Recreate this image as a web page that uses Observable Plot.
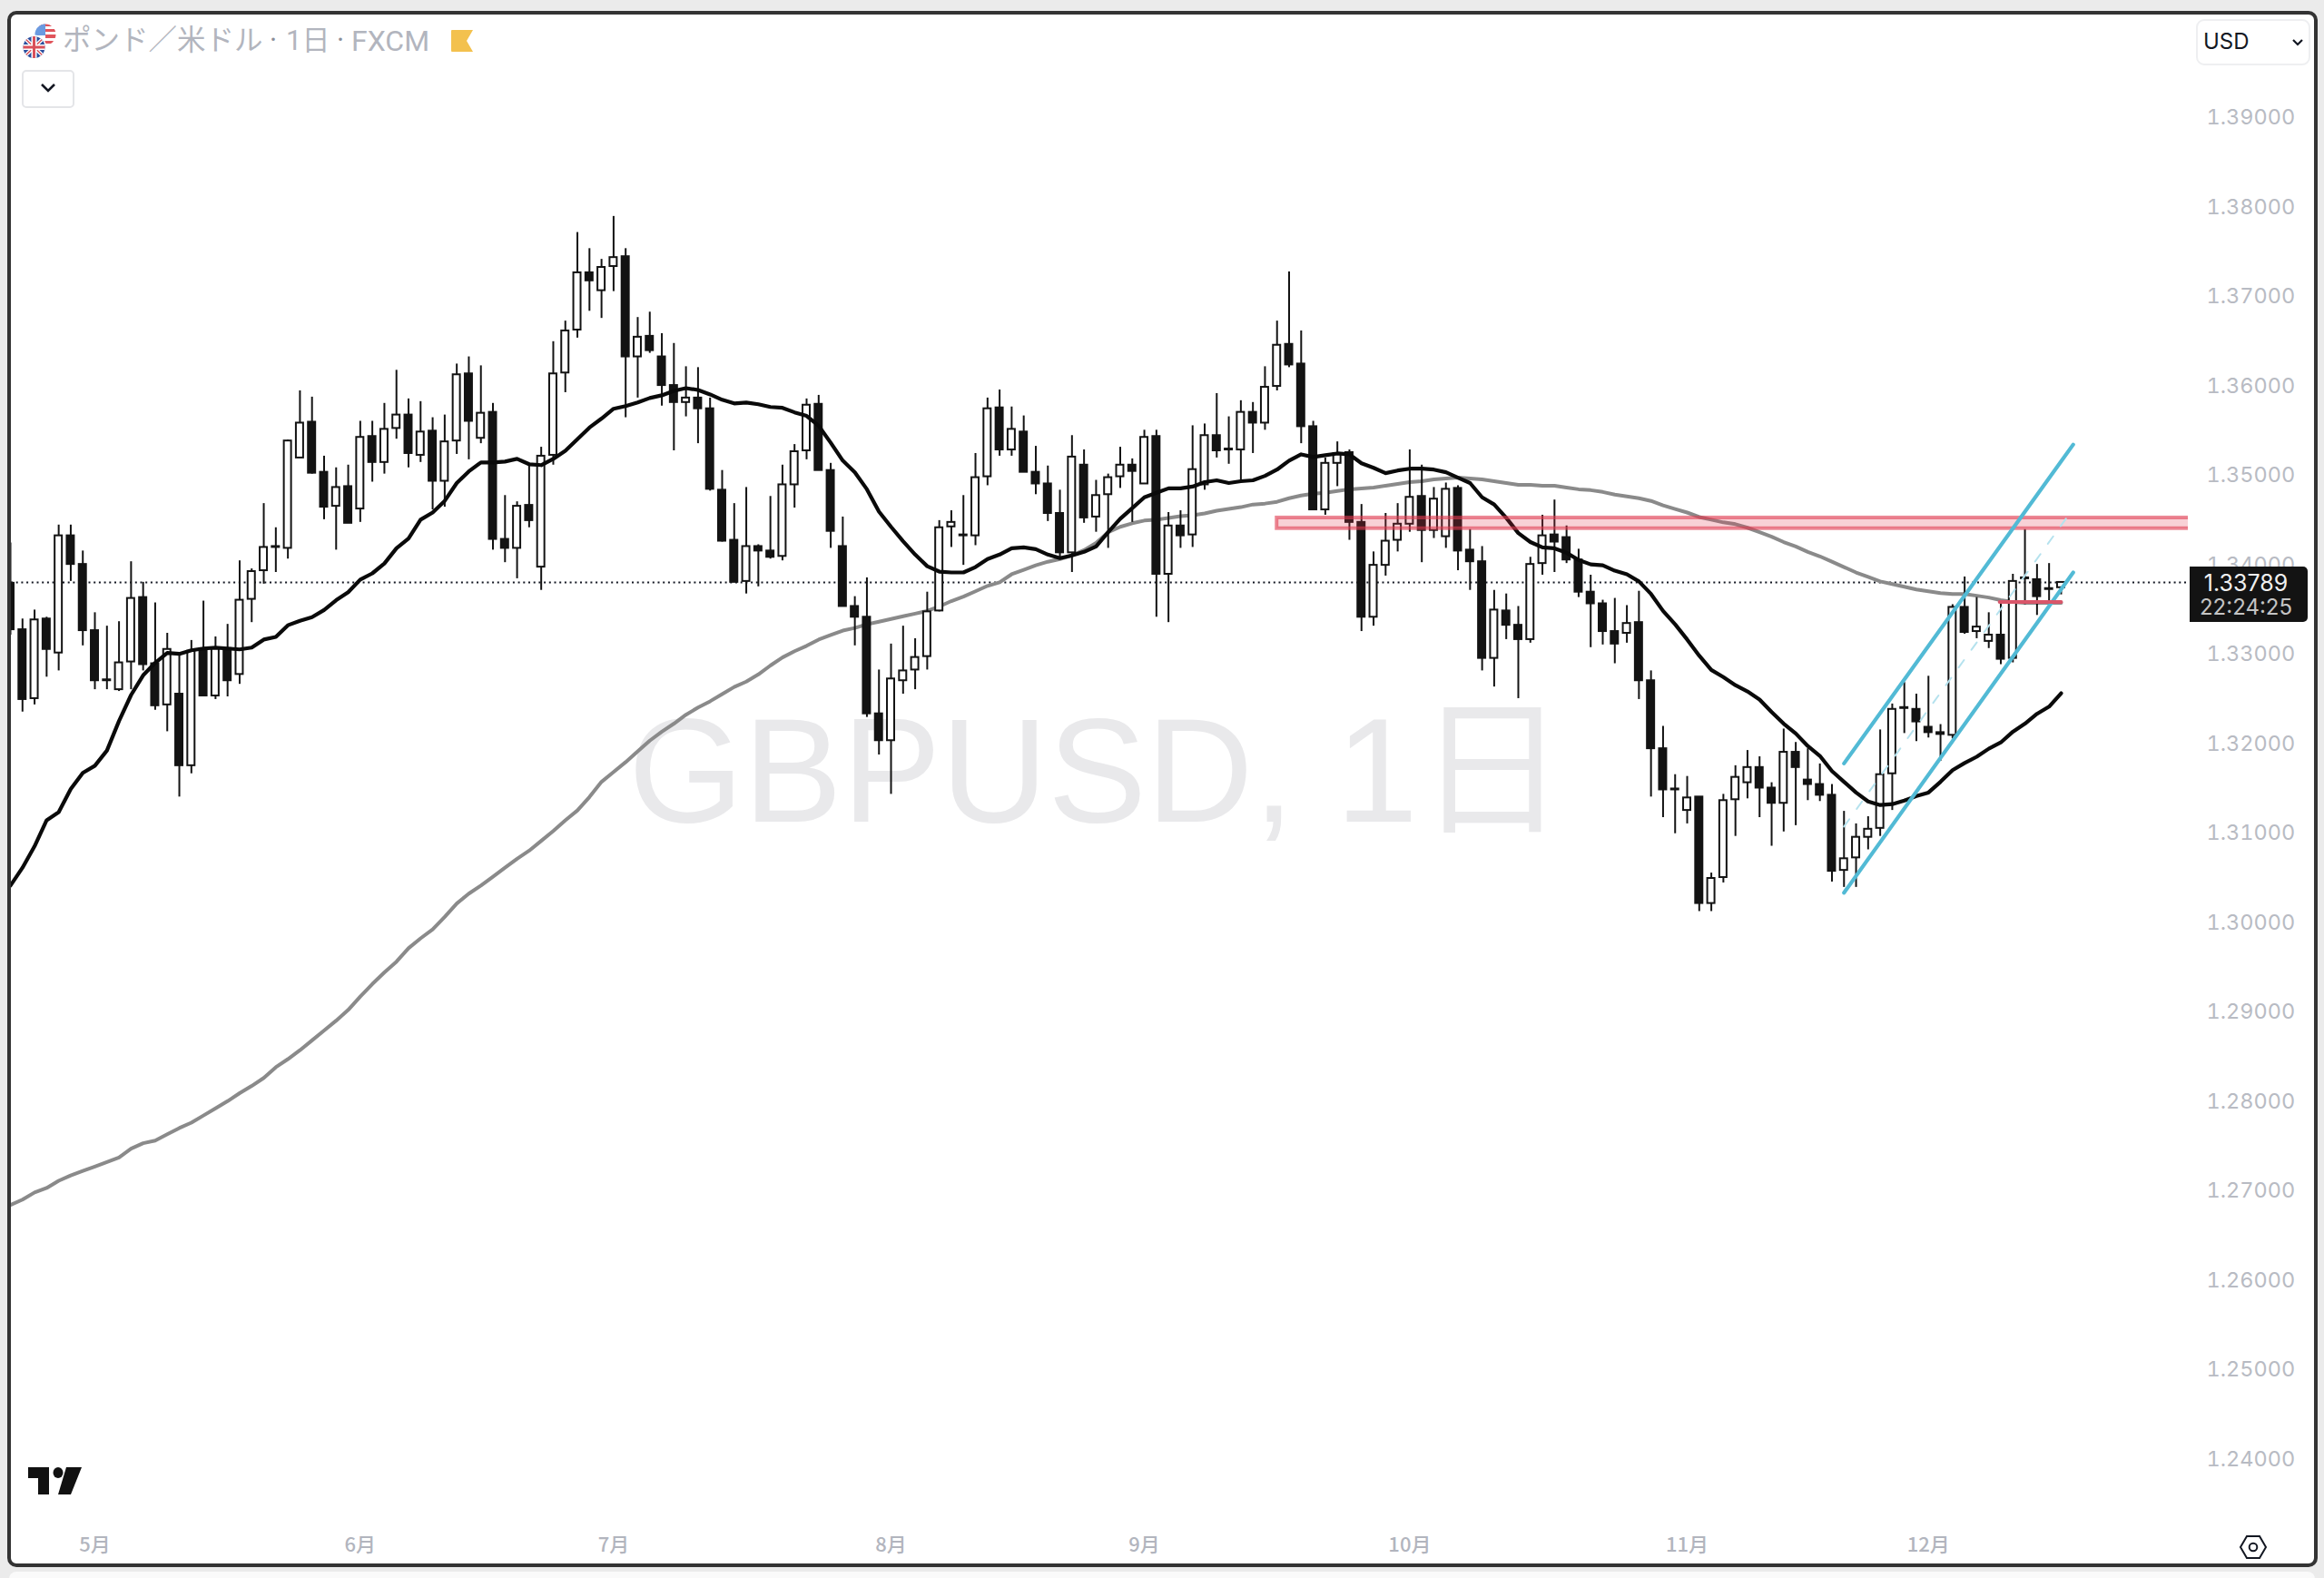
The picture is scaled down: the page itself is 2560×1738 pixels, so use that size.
<!DOCTYPE html>
<html lang="ja">
<head>
<meta charset="utf-8">
<title>GBPUSD</title>
<script src="https://cdn.jsdelivr.net/npm/d3@7"></script>
<script src="https://cdn.jsdelivr.net/npm/@observablehq/plot@0.6"></script>
<style>
html,body{margin:0;padding:0;background:#ebebeb;width:2560px;height:1738px;overflow:hidden}
#strip{position:absolute;left:10px;top:1731px;width:2540px;height:20px;background:#fafafa;border-radius:8px}
#frame{position:absolute;left:8px;top:12px;width:2537px;height:1706px;background:#fff;border:4px solid #333;border-radius:10px}
#chart{position:absolute;left:0;top:0}
.t{position:absolute;font-family:Roboto,"Noto Sans CJK JP",sans-serif;color:#b2b5be;white-space:nowrap;line-height:1}
#btn{position:absolute;left:24px;top:77px;width:54px;height:38px;border:2px solid #e4e5e8;border-radius:5px;background:#fff}
#usd{position:absolute;left:2419px;top:21px;width:122px;height:47px;border:2px solid #eeeff1;border-radius:9px;background:#fff}
#usd span{position:absolute;left:6px;top:9px;font:24px/28px Inter,Roboto,sans-serif;color:#131722}
#tag{position:absolute;left:2412px;top:624px;width:130px;height:61px;background:#131313;border-radius:0 5px 5px 0;text-align:center;font-family:Inter,Roboto,sans-serif}
#tag div{position:absolute;left:0;width:124px;text-align:center}
#tag .a{top:3px;color:#f0f0f0;font-size:25px;line-height:30px}
#tag .b{top:31px;color:#c4c4c4;font-size:24px;line-height:28px}
svg.o{position:absolute;overflow:visible}
</style>
</head>
<body>
<div id="strip"></div>
<div id="frame"></div>
<div id="chart"></div>

<svg class="o" style="left:22px;top:24px" width="44" height="44" viewBox="22 24 44 44">
  <defs>
    <clipPath id="us"><circle cx="50" cy="38" r="11.5"/></clipPath>
    <clipPath id="uk"><circle cx="37.5" cy="52" r="12"/></clipPath>
  </defs>
  <g clip-path="url(#us)">
    <rect x="38" y="26" width="24" height="24" fill="#fff"/>
    <rect x="38" y="26" width="24" height="3" fill="#e0545b"/>
    <rect x="50" y="32" width="12" height="3" fill="#e0545b"/>
    <rect x="50" y="38" width="12" height="4" fill="#e0545b"/>
    <rect x="38" y="45" width="24" height="3" fill="#e0545b"/>
    <rect x="38" y="26" width="12" height="13" fill="#6b9ae0"/>
  </g>
  <circle cx="37.5" cy="52" r="13.5" fill="#fff"/>
  <g clip-path="url(#uk)">
    <rect x="25" y="40" width="25" height="24" fill="#2b4f9e"/>
    <path d="M25 40L50 64M50 40L25 64" stroke="#fff" stroke-width="4"/>
    <path d="M25 40L50 64M50 40L25 64" stroke="#d9505a" stroke-width="1.4"/>
    <path d="M37.500 40V64M25 52H50" stroke="#fff" stroke-width="6"/>
    <path d="M37.500 40V64M25 52H50" stroke="#d9505a" stroke-width="3"/>
  </g>
</svg>
<span class="t" style="left:69px;top:29px;font-size:31.5px">ポンド／米ドル</span>
<span class="t" style="left:297px;top:29px;font-size:31px;color:#8a8e99">·</span>
<span class="t" style="left:315px;top:29px;font-size:31px">1日</span>
<span class="t" style="left:371px;top:29px;font-size:31px;color:#8a8e99">·</span>
<span class="t" style="left:387px;top:29px;font-size:32px">FXCM</span>
<svg class="o" style="left:497px;top:33px" width="24" height="24" viewBox="0 0 24 24"><path d="M1 0H24L17 12L24 24H1Q0 24 0 23V1Q0 0 1 0Z" fill="#f3c14e"/></svg>

<div id="btn"><svg class="o" style="left:18px;top:12px" width="18" height="12" viewBox="0 0 18 12"><path d="M2 2L9 9L16 2" fill="none" stroke="#131722" stroke-width="2.6"/></svg></div>
<div id="usd"><span>USD</span><svg class="o" style="left:103px;top:19px" width="14" height="10" viewBox="0 0 14 10"><path d="M2 2L7 7L12 2" fill="none" stroke="#131722" stroke-width="2.2"/></svg></div>
<div id="tag"><div class="a">1.33789</div><div class="b">22:24:25</div></div>

<svg class="o" style="left:31px;top:1616px" width="60" height="30" viewBox="0 0 60 30">
  <path d="M0 0H23V30H11V12H0Z" fill="#111"/>
  <ellipse cx="33" cy="6" rx="5.500" ry="6" fill="#111"/>
  <path d="M42 0H59L47 30H33Z" fill="#111"/>
</svg>
<svg class="o" style="left:2466px;top:1689px" width="32" height="30" viewBox="0 0 32 30">
  <path d="M9 3H23L30 15L23 27H9L2 15Z" fill="none" stroke="#131722" stroke-width="2"/>
  <circle cx="16" cy="15" r="4.300" fill="none" stroke="#131722" stroke-width="2"/>
</svg>

<script>
const open = [
1.3378,1.3326,1.3249,1.3338,1.3300,1.3431,1.3399,1.3325,1.3270,1.3259,
1.3290,1.3362,1.3288,1.3242,1.3254,1.3174,1.3303,1.3252,1.3303,1.3276,
1.3360,1.3392,1.3418,1.3417,1.3518,1.3558,1.3502,1.3464,1.3486,1.3461,
1.3542,1.3513,1.3551,1.3566,1.3521,1.3548,1.3492,1.3537,1.3612,1.3540,
1.3569,1.3427,1.3417,1.3465,1.3396,1.3521,1.3613,1.3661,1.3725,1.3705,
1.3732,1.3743,1.3631,1.3654,1.3631,1.3599,1.3580,1.3585,1.3573,1.3482,
1.3426,1.3380,1.3419,1.3414,1.3408,1.3488,1.3526,1.3578,1.3504,1.3419,
1.3352,1.3340,1.3232,1.3202,1.3269,1.3281,1.3296,1.3347,1.3441,1.3432,
1.3431,1.3497,1.3574,1.3527,1.3547,1.3502,1.3489,1.3456,1.3412,1.3510,
1.3452,1.3477,1.3497,1.3510,1.3489,1.3542,1.3388,1.3442,1.3432,1.3488,
1.3543,1.3527,1.3527,1.3569,1.3557,1.3598,1.3645,1.3623,1.3553,1.3460,
1.3512,1.3524,1.3446,1.3340,1.3398,1.3426,1.3444,1.3475,1.3437,1.3430,
1.3484,1.3415,1.3402,1.3294,1.3347,1.3331,1.3315,1.3400,1.3432,1.3429,
1.3404,1.3368,1.3355,1.3324,1.3322,1.3334,1.3269,1.3193,1.3148,1.3124,
1.3139,1.3020,1.3049,1.3136,1.3155,1.3172,1.3149,1.3132,1.3189,1.3158,
1.3153,1.3141,1.3057,1.3071,1.3094,1.3104,1.3165,1.3239,1.3237,1.3217,
1.3211,1.3208,1.3351,1.3324,1.3313,1.3320,1.3294,1.3383,1.3382,1.3372,
1.3373];
const high = [
1.3423,1.3338,1.3348,1.3340,1.3443,1.3443,1.3414,1.3345,1.3330,1.3335,
1.3402,1.3379,1.3356,1.3322,1.3298,1.3314,1.3358,1.3318,1.3332,1.3403,
1.3394,1.3467,1.3440,1.3538,1.3593,1.3586,1.3520,1.3507,1.3510,1.3559,
1.3559,1.3579,1.3616,1.3584,1.3581,1.3563,1.3566,1.3623,1.3631,1.3621,
1.3579,1.3476,1.3469,1.3512,1.3530,1.3648,1.3671,1.3770,1.3752,1.3740,
1.3788,1.3752,1.3675,1.3681,1.3657,1.3646,1.3620,1.3619,1.3585,1.3504,
1.3467,1.3485,1.3421,1.3475,1.3510,1.3533,1.3584,1.3588,1.3512,1.3452,
1.3363,1.3384,1.3281,1.3310,1.3330,1.3316,1.3368,1.3448,1.3459,1.3476,
1.3523,1.3585,1.3594,1.3575,1.3565,1.3531,1.3509,1.3482,1.3543,1.3527,
1.3493,1.3500,1.3530,1.3517,1.3549,1.3549,1.3457,1.3459,1.3554,1.3556,
1.3590,1.3564,1.3582,1.3580,1.3620,1.3671,1.3726,1.3660,1.3559,1.3518,
1.3536,1.3527,1.3466,1.3413,1.3456,1.3467,1.3527,1.3510,1.3485,1.3490,
1.3487,1.3438,1.3419,1.3370,1.3366,1.3352,1.3407,1.3454,1.3471,1.3442,
1.3416,1.3387,1.3359,1.3361,1.3353,1.3369,1.3280,1.3218,1.3164,1.3162,
1.3139,1.3054,1.3142,1.3174,1.3191,1.3184,1.3155,1.3215,1.3200,1.3193,
1.3176,1.3153,1.3123,1.3109,1.3117,1.3214,1.3243,1.3267,1.3254,1.3274,
1.3220,1.3354,1.3385,1.3362,1.3345,1.3358,1.3388,1.3438,1.3399,1.3400,
1.3379];
const low = [
1.3320,1.3234,1.3242,1.3273,1.3280,1.3380,1.3308,1.3259,1.3259,1.3257,
1.3259,1.3280,1.3236,1.3212,1.3139,1.3165,1.3252,1.3248,1.3251,1.3265,
1.3334,1.3377,1.3390,1.3405,1.3518,1.3500,1.3449,1.3415,1.3445,1.3446,
1.3491,1.3500,1.3539,1.3507,1.3513,1.3460,1.3463,1.3522,1.3516,1.3534,
1.3415,1.3401,1.3383,1.3440,1.3370,1.3510,1.3591,1.3652,1.3682,1.3674,
1.3704,1.3563,1.3585,1.3635,1.3576,1.3526,1.3564,1.3534,1.3481,1.3424,
1.3379,1.3366,1.3374,1.3405,1.3403,1.3462,1.3516,1.3504,1.3417,1.3352,
1.3308,1.3228,1.3186,1.3142,1.3254,1.3259,1.3281,1.3346,1.3418,1.3398,
1.3420,1.3487,1.3520,1.3520,1.3502,1.3477,1.3447,1.3405,1.3390,1.3445,
1.3435,1.3417,1.3484,1.3446,1.3489,1.3340,1.3334,1.3417,1.3418,1.3482,
1.3518,1.3511,1.3493,1.3523,1.3549,1.3593,1.3619,1.3534,1.3460,1.3454,
1.3486,1.3426,1.3324,1.3330,1.3386,1.3413,1.3435,1.3401,1.3428,1.3417,
1.3392,1.3370,1.3280,1.3262,1.3315,1.3249,1.3311,1.3387,1.3390,1.3400,
1.3362,1.3306,1.3309,1.3288,1.3311,1.3248,1.3139,1.3116,1.3098,1.3109,
1.3011,1.3011,1.3043,1.3095,1.3137,1.3116,1.3084,1.3100,1.3107,1.3135,
1.3134,1.3044,1.3038,1.3038,1.3080,1.3095,1.3124,1.3210,1.3201,1.3205,
1.3179,1.3204,1.3321,1.3316,1.3305,1.3287,1.3289,1.3354,1.3342,1.3354,
1.3365];
const close = [
1.3326,1.3248,1.3337,1.3304,1.3431,1.3399,1.3325,1.3269,1.3269,1.3289,
1.3361,1.3287,1.3241,1.3304,1.3174,1.3302,1.3252,1.3305,1.3269,1.3359,
1.3391,1.3418,1.3419,1.3537,1.3557,1.3501,1.3463,1.3485,1.3445,1.3541,
1.3513,1.3550,1.3566,1.3523,1.3547,1.3492,1.3536,1.3611,1.3559,1.3568,
1.3427,1.3417,1.3464,1.3448,1.3520,1.3612,1.3660,1.3725,1.3716,1.3731,
1.3742,1.3631,1.3653,1.3638,1.3599,1.3580,1.3585,1.3573,1.3483,1.3425,
1.3379,1.3419,1.3414,1.3407,1.3488,1.3525,1.3577,1.3504,1.3436,1.3352,
1.3340,1.3232,1.3202,1.3271,1.3280,1.3295,1.3346,1.3440,1.3446,1.3431,
1.3496,1.3573,1.3527,1.3550,1.3502,1.3489,1.3456,1.3412,1.3519,1.3451,
1.3476,1.3496,1.3510,1.3503,1.3541,1.3388,1.3442,1.3431,1.3505,1.3543,
1.3526,1.3528,1.3569,1.3557,1.3597,1.3644,1.3622,1.3553,1.3460,1.3512,
1.3523,1.3446,1.3340,1.3398,1.3425,1.3444,1.3474,1.3437,1.3472,1.3483,
1.3414,1.3402,1.3294,1.3348,1.3331,1.3315,1.3399,1.3431,1.3424,1.3404,
1.3368,1.3355,1.3324,1.3310,1.3333,1.3269,1.3193,1.3147,1.3147,1.3138,
1.3020,1.3048,1.3135,1.3161,1.3172,1.3149,1.3132,1.3189,1.3172,1.3153,
1.3141,1.3056,1.3070,1.3094,1.3103,1.3164,1.3237,1.3238,1.3223,1.3211,
1.3209,1.3351,1.3323,1.3329,1.3320,1.3293,1.3380,1.3384,1.3363,1.3371,
1.33789];
const fastAverage = [
1.3040,1.3060,1.3084,1.3113,1.3122,1.3148,1.3166,1.3174,1.3191,1.3224,
1.3253,1.3275,1.3289,1.3300,1.3299,1.3303,1.3305,1.3306,1.3305,1.3304,
1.3306,1.3315,1.3318,1.3331,1.3336,1.3340,1.3348,1.3359,1.3368,1.3382,
1.3389,1.3400,1.3417,1.3428,1.3449,1.3457,1.3470,1.3490,1.3503,1.3513,
1.3513,1.3514,1.3517,1.3511,1.3510,1.3517,1.3526,1.3539,1.3552,1.3562,
1.3573,1.3576,1.3580,1.3585,1.3588,1.3593,1.3596,1.3594,1.3589,1.3583,
1.3579,1.3580,1.3578,1.3575,1.3574,1.3569,1.3565,1.3554,1.3535,1.3515,
1.3502,1.3483,1.3458,1.3441,1.3425,1.3410,1.3397,1.3391,1.3390,1.3390,
1.3396,1.3405,1.3410,1.3417,1.3418,1.3416,1.3410,1.3406,1.3409,1.3413,
1.3419,1.3435,1.3450,1.3462,1.3474,1.3479,1.3484,1.3484,1.3486,1.3491,
1.3493,1.3490,1.3492,1.3493,1.3498,1.3505,1.3515,1.3522,1.3519,1.3521,
1.3523,1.3522,1.3512,1.3507,1.3501,1.3504,1.3506,1.3506,1.3505,1.3502,
1.3496,1.3490,1.3474,1.3466,1.3451,1.3434,1.3424,1.3418,1.3417,1.3412,
1.3404,1.3399,1.3398,1.3392,1.3388,1.3380,1.3366,1.3347,1.3332,1.3315,
1.3297,1.3281,1.3273,1.3264,1.3257,1.3248,1.3234,1.3221,1.3210,1.3196,
1.3185,1.3168,1.3156,1.3144,1.3134,1.3130,1.3131,1.3135,1.3140,1.3144,
1.3156,1.3169,1.3177,1.3184,1.3193,1.3200,1.3212,1.3221,1.3232,1.3240,
1.3255];
const slowAverage = [
1.2683,1.2689,1.2697,1.2702,1.2710,1.2716,1.2721,1.2726,1.2731,1.2736,
1.2746,1.2752,1.2755,1.2762,1.2769,1.2775,1.2783,1.2791,1.2799,1.2808,
1.2816,1.2825,1.2837,1.2846,1.2856,1.2867,1.2878,1.2889,1.2901,1.2916,
1.2930,1.2943,1.2955,1.2970,1.2981,1.2991,1.3005,1.3020,1.3031,1.3040,
1.3050,1.3060,1.3070,1.3079,1.3090,1.3101,1.3113,1.3124,1.3139,1.3156,
1.3167,1.3178,1.3190,1.3202,1.3212,1.3221,1.3231,1.3239,1.3246,1.3254,
1.3262,1.3268,1.3276,1.3286,1.3295,1.3302,1.3308,1.3315,1.3320,1.3325,
1.3328,1.3332,1.3335,1.3338,1.3341,1.3344,1.3347,1.3352,1.3358,1.3363,
1.3369,1.3375,1.3379,1.3388,1.3393,1.3398,1.3402,1.3405,1.3409,1.3415,
1.3423,1.3435,1.3441,1.3445,1.3448,1.3449,1.3451,1.3453,1.3454,1.3456,
1.3459,1.3461,1.3463,1.3466,1.3467,1.3469,1.3473,1.3476,1.3478,1.3479,
1.3481,1.3483,1.3484,1.3485,1.3487,1.3489,1.3491,1.3492,1.3494,1.3495,
1.3496,1.3495,1.3494,1.3492,1.3490,1.3488,1.3488,1.3487,1.3487,1.3485,
1.3483,1.3482,1.3480,1.3477,1.3475,1.3473,1.3470,1.3465,1.3461,1.3457,
1.3452,1.3449,1.3446,1.3444,1.3440,1.3435,1.3430,1.3424,1.3419,1.3413,
1.3408,1.3402,1.3396,1.3390,1.3385,1.3380,1.3377,1.3374,1.3371,1.3369,
1.3367,1.3366,1.3366,1.3364,1.3362,1.3359,1.3357,1.3356,1.3356,1.3356,
1.3356];

const priceTicks = [1.39,1.38,1.37,1.36,1.35,1.34,1.33,1.32,1.31,1.30,1.29,1.28,1.27,1.26,1.25,1.24];
const monthLabels = ["5月","6月","7月","8月","9月","10月","11月","12月"];
const monthBars = [7,29,50,73,94,116,139,159];
const lastPrice = 1.33789;
const zoneTop = 1.3451, zoneBottom = 1.3439, zoneStart = 105;
const levelPrice = 1.3357, levelStart = 164.9, levelEnd = 170;
const channelBars = [152,171];
const channelUpper = [1.31765,1.3533];
const channelLower = [1.3032,1.3390];
const channelMiddleBars = [152,170.5];
const channelMiddle = [1.3106,1.3452];
const watermark = "GBPUSD, 1日";

const xMin = 0.0753, xMax = 180.54, yMin = 1.23325, yMax = 1.401316;
const candles = open.map((o,i)=>({i,o,h:high[i],l:low[i],c:close[i],up:close[i]>=o}));
const barHalf = 0.3;
const ink = "#131313";

const plot = Plot.plot({
  width:2560, height:1738,
  marginLeft:12, marginRight:150, marginTop:16, marginBottom:66,
  style:{background:"transparent",overflow:"visible",fontFamily:"Inter,Roboto,sans-serif"},
  x:{domain:[xMin,xMax]},
  y:{domain:[yMin,yMax]},
  marks:[
    Plot.text([watermark],{frameAnchor:"middle",dx:-3,dy:8,fontSize:163,fill:"#e9e9eb",fontFamily:"Liberation Sans,'Noto Sans CJK JP',sans-serif"}),
    Plot.axisY(priceTicks,{anchor:"right",tickSize:0,tickPadding:20,dy:1.5,tickFormat:d=>d.toFixed(5),fontSize:23.5,fill:"#b8bbc3",label:null}),
    Plot.axisX(monthBars,{anchor:"bottom",tickSize:0,tickPadding:21,tickFormat:(d,i)=>monthLabels[monthBars.indexOf(d)],fontSize:22,fontWeight:500,fill:"#b2b5be",fontFamily:"'Noto Sans CJK JP',sans-serif",label:null}),
    Plot.ruleY([lastPrice],{stroke:"#131722",strokeWidth:2,strokeDasharray:"2 3.7",x1:xMin,x2:xMax}),
    Plot.line(slowAverage,{x:(d,i)=>i,y:d=>d,stroke:"#8a8a8a",strokeWidth:4,clip:"frame"}),
    Plot.ruleX(candles,{x:"i",y1:"l",y2:"h",stroke:ink,strokeWidth:2,clip:"frame"}),
    Plot.rect(candles,{x1:d=>d.i-barHalf,x2:d=>d.i+barHalf,y1:"o",y2:"c",fill:d=>d.up?"#fff":ink,stroke:ink,strokeWidth:2,clip:"frame"}),
    Plot.line(fastAverage,{x:(d,i)=>i,y:d=>d,stroke:"#0a0a0a",strokeWidth:4.2,clip:"frame"}),
    Plot.rect([{}],{x1:zoneStart,x2:xMax+2,y1:zoneBottom,y2:zoneTop,fill:"#e0394f",fillOpacity:.23,stroke:"#e0394f",strokeOpacity:.6,strokeWidth:4,clip:"frame"}),
    Plot.line(channelMiddle,{x:(d,i)=>channelMiddleBars[i],y:d=>d,stroke:"#b5e2ee",strokeWidth:2,strokeDasharray:"10 14"}),
    Plot.line(channelUpper,{x:(d,i)=>channelBars[i],y:d=>d,stroke:"#52bad5",strokeWidth:4.2}),
    Plot.line(channelLower,{x:(d,i)=>channelBars[i],y:d=>d,stroke:"#52bad5",strokeWidth:4.2}),
    Plot.line([levelPrice,levelPrice],{x:(d,i)=>[levelStart,levelEnd][i],y:d=>d,stroke:"#d9566a",strokeWidth:4})
  ]
});
document.getElementById("chart").appendChild(plot);
</script>
</body>
</html>
